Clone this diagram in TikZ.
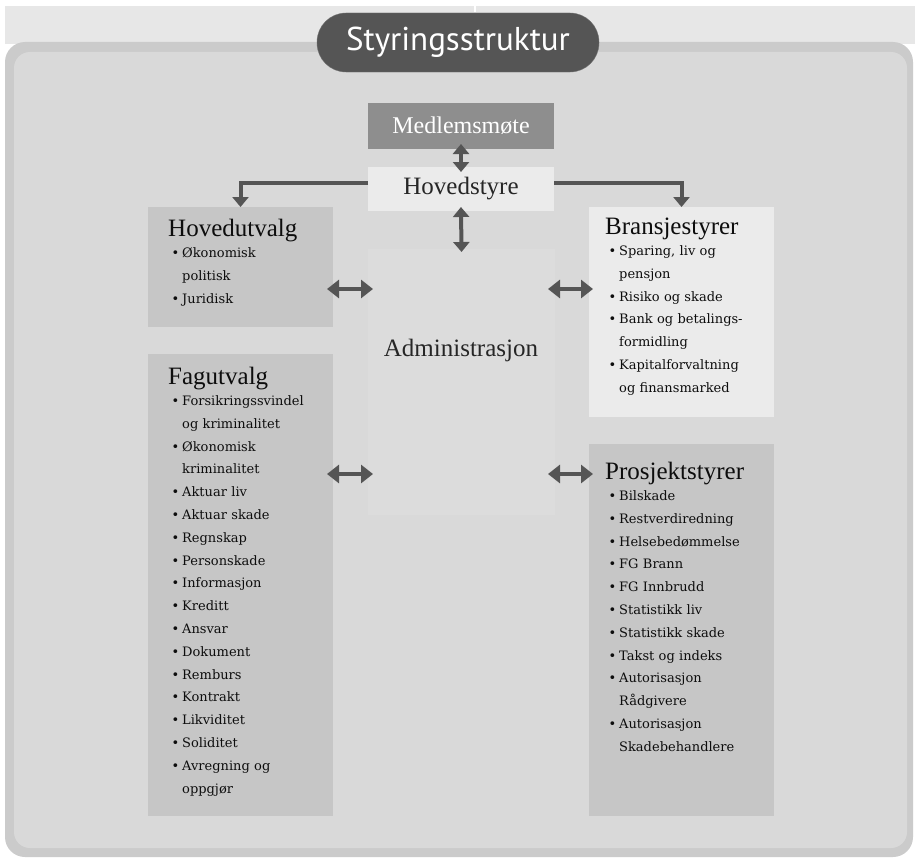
\documentclass[tikz,border=0pt]{standalone}
\usepackage{fontspec}
\setmainfont{DejaVu Serif}
\newfontfamily\headfam{Liberation Serif}
\newfontfamily\titlefam{PT Sans}
\usetikzlibrary{arrows.meta}

\definecolor{panelgrey}{HTML}{D9D9D9}
\definecolor{rimgrey}{HTML}{CBCBCB}
\definecolor{stripgrey}{HTML}{E7E7E7}
\definecolor{darkbox}{HTML}{C6C6C6}
\definecolor{lightbox}{HTML}{EBEBEB}
\definecolor{adminbox}{HTML}{DCDCDC}
\definecolor{meetbox}{HTML}{8E8E8E}
\definecolor{arrowgrey}{HTML}{555555}

\newcommand{\itm}{\hspace*{3.5pt}\makebox[10.5pt][l]{\textbullet}}
\newcommand{\cnt}{\hspace*{14pt}}
\newcommand{\hd}[1]{{\headfam\fontsize{25}{22.8}\selectfont #1}\\[-1.3pt]}

\begin{document}
\begin{tikzpicture}[x=1pt, y=-1pt,
    box/.style={inner sep=0pt, outer sep=0pt},
    dark/.style={box, fill=darkbox, minimum width=185pt},
    light/.style={box, fill=lightbox, minimum width=185pt},
    headtext/.style={inner sep=0pt, text=black!85, font=\headfam\fontsize{25}{25}\selectfont},
    listtext/.style={anchor=base west, inner sep=0pt, text width=165pt, align=left, text=black!95, font=\fontsize{13}{22.8}\selectfont},
    link/.style={draw=arrowgrey, line width=4pt, -{Triangle[width=16pt,length=10pt]}},
    twoway/.style={draw=arrowgrey, line width=4pt, {Triangle[width=18pt,length=12pt]}-{Triangle[width=18pt,length=12pt]}},
    twowayv/.style={draw=arrowgrey, line width=4pt, {Triangle[width=16pt,length=10pt]}-{Triangle[width=16pt,length=10pt]}}]
  \useasboundingbox (0,0) rectangle (915,859);
  \fill[white] (0,0) rectangle (915,859);
  \fill[stripgrey] (5,6) rectangle (915,44);
  \fill[white] (474,0) rectangle (476,12);
  \fill[rimgrey, rounded corners=20pt] (5,42) rectangle (913,857);
  \fill[panelgrey, rounded corners=16pt] (14,52) rectangle (907,848);

  \node[fill=arrowgrey, draw=black!55, rounded corners=29pt, minimum width=282pt, minimum height=59pt, text=white, font=\titlefam\fontsize{33}{33}\selectfont] (titel) at (458,42.5) {Styringsstruktur};

  \node[box, fill=meetbox, minimum width=186pt, minimum height=46pt, text=white, font=\headfam\fontsize{24}{24}\selectfont] (medlemsmote) at (461,126) {Medlemsmøte};
  \node[light, minimum width=186pt, minimum height=44pt, headtext] (hovedstyre) at (461,189) {Hovedstyre};
  \node[box, fill=adminbox, minimum width=187pt, minimum height=266pt] (admin) at (461.5,382) {};
  \node[headtext] (admintekst) at (461,350) {Administrasjon};

  \node[dark, minimum height=120pt] (hovedutvalg) at (240.5,267) {};
  \node[dark, minimum height=462pt] (fagutvalg) at (240.5,585) {};
  \node[light, minimum height=210pt] (bransje) at (681.5,312) {};
  \node[dark, minimum height=372pt] (prosjekt) at (681.5,630) {};

  \node[listtext] (hovedutvalgliste) at (168,236) {\hd{Hovedutvalg}\itm Økonomisk\\ \cnt politisk\\ \itm Juridisk};
  \node[listtext] (fagutvalgliste) at (168,384) {\hd{Fagutvalg}\itm Forsikringssvindel\\ \cnt og kriminalitet\\ \itm Økonomisk\\ \cnt kriminalitet\\ \itm Aktuar liv\\ \itm Aktuar skade\\ \itm Regnskap\\ \itm Personskade\\ \itm Informasjon\\ \itm Kreditt\\ \itm Ansvar\\ \itm Dokument\\ \itm Remburs\\ \itm Kontrakt\\ \itm Likviditet\\ \itm Soliditet\\ \itm Avregning og\\ \cnt oppgjør};
  \node[listtext] (bransjeliste) at (605,234) {\hd{Bransjestyrer}\itm Sparing, liv og\\ \cnt pensjon\\ \itm Risiko og skade\\ \itm Bank og betalings-\\ \cnt formidling\\ \itm Kapitalforvaltning\\ \cnt og finansmarked};
  \node[listtext] (prosjektliste) at (605,479) {\hd{Prosjektstyrer}\itm Bilskade\\ \itm Restverdiredning\\ \itm Helsebedømmelse\\ \itm FG Brann\\ \itm FG Innbrudd\\ \itm Statistikk liv\\ \itm Statistikk skade\\ \itm Takst og indeks\\ \itm Autorisasjon\\ \cnt Rådgivere\\ \itm Autorisasjon\\ \cnt Skadebehandlere};

  \coordinate (toprow) at (0,289);
  \coordinate (midrow) at (0,474);
  \draw[twowayv, shorten <=-5pt, shorten >=-5pt] (medlemsmote.south) -- (hovedstyre.north);
  \draw[twowayv, shorten <=-4pt, shorten >=-3pt] (hovedstyre.south) -- (admin.north);
  \draw[link] ([yshift=6pt]hovedstyre.west) -| (hovedutvalg.north);
  \draw[link] ([yshift=6pt]hovedstyre.east) -| (bransje.north);
  \draw[twoway, shorten <=-6pt, shorten >=-5pt] (hovedutvalg.east |- toprow) -- (admin.west |- toprow);
  \draw[twoway, shorten <=-6pt, shorten >=-5pt] (fagutvalg.east |- midrow) -- (admin.west |- midrow);
  \draw[twoway, shorten <=-7pt, shorten >=-4pt] (admin.east |- toprow) -- (bransje.west |- toprow);
  \draw[twoway, shorten <=-7pt, shorten >=-4pt] (admin.east |- midrow) -- (prosjekt.west |- midrow);
\end{tikzpicture}
\end{document}
